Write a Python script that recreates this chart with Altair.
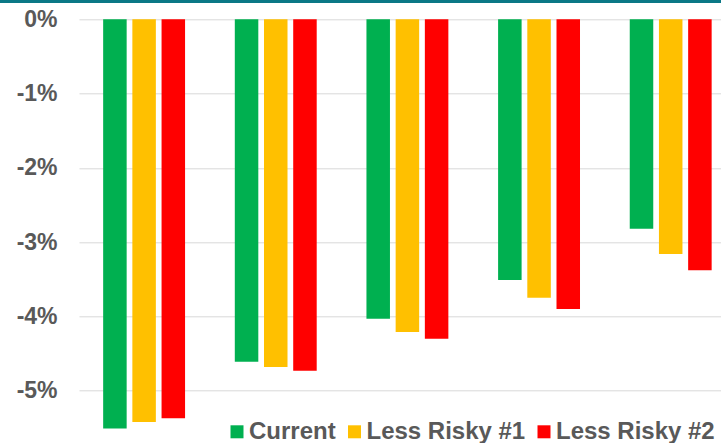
import altair as alt
import pandas as pd

groups = ["1", "2", "3", "4", "5"]
series = ["Current", "Less Risky #1", "Less Risky #2"]
current = [-5.51, -4.61, -4.03, -3.51, -2.82]
less_risky_1 = [-5.42, -4.68, -4.21, -3.75, -3.16]
less_risky_2 = [-5.37, -4.73, -4.30, -3.90, -3.38]
y_ticks = [0, -1, -2, -3, -4, -5]
colors = ["#00B050", "#FFC000", "#FF0000"]

rows = []
for s, vals in zip(series, [current, less_risky_1, less_risky_2]):
    for g, v in zip(groups, vals):
        rows.append({"group": g, "series": s, "value": v})
df = pd.DataFrame(rows)

FONT = "Liberation Sans"

bars = alt.Chart(df).mark_bar().encode(
    x=alt.X("group:N", sort=groups, axis=None,
            scale=alt.Scale(paddingInner=0.2359, paddingOuter=0.05625, align=1, round=False)),
    xOffset=alt.XOffset("series:N", sort=series,
                        scale=alt.Scale(paddingInner=0.195, paddingOuter=0.32)),
    y=alt.Y("value:Q",
            scale=alt.Scale(domain=[-5.708, 0], nice=False),
            axis=alt.Axis(values=y_ticks, labelExpr="datum.value + '%'", title=None,
                          domain=False, ticks=False, grid=True, gridColor="#D9D9D9",
                          gridWidth=1, labelPadding=22, labelFontSize=23,
                          labelFontWeight="bold", labelColor="#595959", labelFont=FONT)),
    color=alt.Color("series:N", sort=series,
                    scale=alt.Scale(domain=series, range=colors),
                    legend=alt.Legend(orient="none", direction="horizontal", title=None,
                                      legendX=146, legendY=400.5, padding=0,
                                      symbolType="square", symbolSize=169,
                                      symbolStrokeWidth=0, labelOffset=0,
                                      columnPadding=6.5, labelFontSize=24,
                                      labelFontWeight="bold", labelColor="#595959",
                                      labelFont=FONT, labelLimit=400)),
)

top_rule = alt.Chart(alt.Data(values=[{}])).mark_rule(color="#0B7886", strokeWidth=3).encode(
    x=alt.value(-79), x2=alt.value(642), y=alt.value(-17.8)
)

chart = alt.layer(bars, top_rule).properties(
    width=642, height=424,
    background="white",
    autosize=alt.AutoSizeParams(type="none"),
    padding={"left": 79, "top": 19.3, "right": 0, "bottom": 0},
).configure_view(strokeWidth=0)

chart.save("out.html", embed_options={"renderer": "svg", "actions": False})
